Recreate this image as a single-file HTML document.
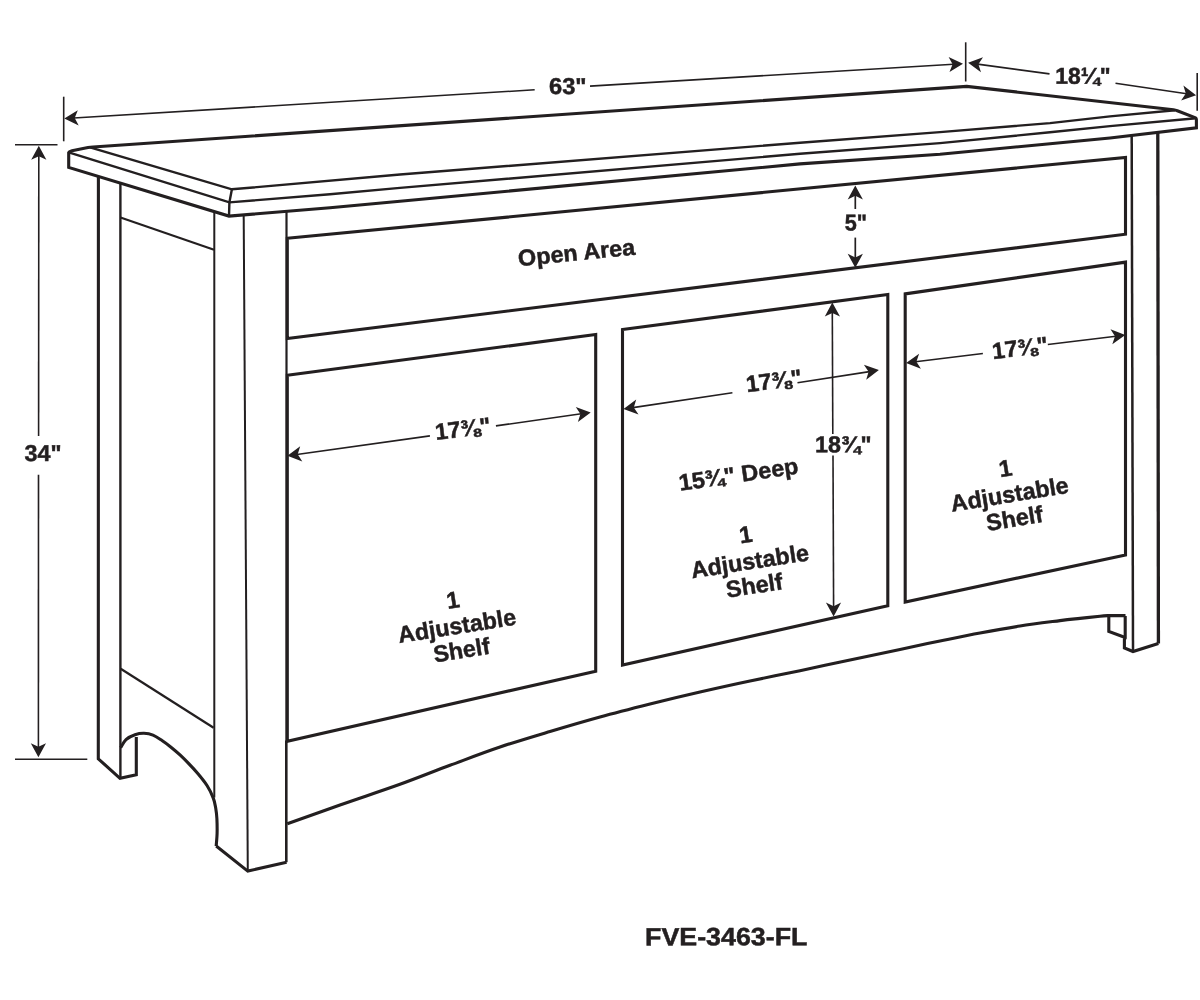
<!DOCTYPE html>
<html lang="en">
<head>
<meta charset="utf-8">
<title>FVE-3463-FL</title>
<style>
html,body{margin:0;padding:0;background:#fff;}
body{width:1200px;height:1000px;overflow:hidden;}
svg{display:block;will-change:transform;}
svg path{fill:none;stroke:#231f20;stroke-linejoin:miter;stroke-linecap:butt;}
svg path.ah{fill:#231f20;stroke:none;}
svg text{font-family:"Liberation Sans",Arial,Helvetica,sans-serif;font-weight:700;fill:#231f20;stroke:#231f20;stroke-width:0.5px;}
</style>
</head>
<body>
<svg width="1200" height="1000" viewBox="0 0 1200 1000">
<rect x="0" y="0" width="1200" height="1000" fill="#ffffff"/>
<g transform="translate(0 0.5)">
<path d="M68.7,166.9 L68.7,152 Q69,151 72,150.2 L88,147 Q90,146.7 93,146.5 L966.7,85.9 L1173.5,109.2 Q1175.5,109.5 1177.3,110.2 L1195.6,117.3 Q1196.4,117.7 1196.4,119 L1196.4,127.4 L1110,137.5 L1050,143.2 L940,153.8 L800,163.4 L400,200.7 L330,207.3 L229,215.6 Z" stroke-width="3.1"/>
<path d="M229.0,215.6 L229.4,201.9 L231.9,188.8" stroke-width="2.4" />
<path d="M90.0,146.8 L231.9,188.8 L400.0,174.0 L800.0,142.3 L940.0,131.6 L1050.0,122.6 L1110.0,115.9 L1175.0,109.7" stroke-width="2.4" />
<path d="M68.7,151.8 L229.4,201.9 L330.0,193.7 L400.0,187.4 L800.0,153.3 L940.0,142.6 L1050.0,131.8 L1110.0,125.6 L1196.0,117.7" stroke-width="2.4" />
<path d="M98.4,175.9 L98.3,758.3 L120.0,777.8 L136.3,774.2 L136.3,736.6" stroke-width="3.1" />
<path d="M120.4,182.6 L120.4,777.7" stroke-width="2.4" />
<path d="M120.5,217.0 L214.0,249.3" stroke-width="2.2" />
<path d="M120.7,668.3 L213.6,727.3" stroke-width="2.2" />
<path d="M120.6,747.2 C121.5,745.9 123.6,741.3 126.0,739.1 C128.4,736.9 132.0,735.2 135.0,734.2 C138.0,733.2 141.0,732.7 144.0,732.8 C147.0,732.9 150.0,733.4 153.0,734.6 C156.0,735.8 159.0,738.0 162.0,740.0 C165.0,742.0 168.0,744.3 171.0,746.7 C174.0,749.1 177.0,751.6 180.0,754.4 C183.0,757.2 186.0,760.2 189.0,763.4 C192.0,766.5 195.0,769.7 198.0,773.3 C201.0,776.9 204.4,781.0 207.0,785.0 C209.6,789.0 211.9,793.9 213.3,797.6 C214.8,801.4 215.1,804.0 215.7,807.5 C216.3,811.0 216.7,814.1 216.9,818.3 C217.1,822.5 217.2,828.2 217.1,832.7 C217.0,837.2 216.3,843.4 216.2,845.5" stroke-width="3.1"/>
<path d="M214.3,211.2 L214.3,797.0" stroke-width="2.0" />
<path d="M216.2,845.5 L247.8,870.6 L286.6,861.7" stroke-width="3.1" />
<path d="M243.7,215.6 L247.8,870.6" stroke-width="2.0" />
<path d="M286.5,211.5 L286.5,741.0" stroke-width="2.2" />
<path d="M286.3,740.0 L286.3,861.7" stroke-width="2.6" />
<path d="M287.3,237.8 L1125.5,157.0 L1125.5,233.7 L287.3,338.0 Z" stroke-width="3.1" />
<path d="M287.3,374.7 L595.7,334.0 L595.7,670.7 L287.3,740.7 Z" stroke-width="3.1" />
<path d="M622.5,329.0 L887.8,294.0 L887.8,605.2 L622.5,664.6 Z" stroke-width="3.1" />
<path d="M905.2,293.4 L1125.5,261.6 L1125.5,554.4 L905.2,601.6 Z" stroke-width="3.1" />
<path d="M287.3,823.3 C296.1,820.2 321.2,811.1 340.0,804.5 C358.8,797.9 381.7,790.4 400.0,783.8 C418.3,777.2 433.3,771.0 450.0,764.8 C466.7,758.6 483.3,752.1 500.0,746.5 C516.7,740.9 533.3,736.0 550.0,731.0 C566.7,726.0 583.3,721.1 600.0,716.5 C616.7,711.9 633.3,707.7 650.0,703.5 C666.7,699.3 683.3,695.3 700.0,691.5 C716.7,687.7 733.3,684.0 750.0,680.5 C766.7,677.0 783.3,673.7 800.0,670.2 C816.7,666.7 833.3,663.0 850.0,659.5 C866.7,656.0 885.0,652.2 900.0,649.0 C915.0,645.8 926.7,643.2 940.0,640.5 C953.3,637.8 966.7,635.0 980.0,632.5 C993.3,630.0 1006.7,627.6 1020.0,625.5 C1033.3,623.4 1050.0,621.4 1060.0,620.1 C1070.0,618.8 1073.3,618.6 1080.0,617.9 C1086.7,617.2 1095.2,616.2 1100.0,615.7 C1104.8,615.2 1107.5,615.2 1109.0,615.1 L1125.5,615.1" stroke-width="3.1"/>
<path d="M1108.8,615.6 L1108.8,631.0 L1125.2,637.0" stroke-width="3.1" />
<path d="M1125.2,615.6 L1125.2,637.5 L1124.4,639.0 L1124.4,647.4 L1133.0,651.0 L1158.4,643.0" stroke-width="3.1" />
<path d="M1131.7,135.5 L1133.0,651.0" stroke-width="2.5" />
<path d="M1157.8,132.3 L1158.4,643.0" stroke-width="3.3000000000000003" />
<path d="M63.7,96.2 L63.7,140.8" stroke-width="1.6" />
<path d="M965.7,41.8 L965.7,81.0" stroke-width="1.6" />
<path class="ah" d="M64.3,118.1 L77.8,109.7 L74.7,117.5 L78.7,124.9 Z"/>
<path d="M73.8,117.5 L534.7,89.3" stroke-width="1.6"/>
<path class="ah" d="M963.0,63.2 L949.5,71.6 L952.6,63.8 L948.6,56.4 Z"/>
<path d="M590.0,85.6 L953.5,63.7" stroke-width="1.6"/>
<text x="549.0" y="93.6" font-size="23" text-anchor="start" transform="rotate(-0.05 549.0 93.6)" textLength="37.6" lengthAdjust="spacingAndGlyphs">63"</text>
<path d="M1197.2,72.5 L1197.2,110.2" stroke-width="1.6" />
<path class="ah" d="M968.1,62.3 L983.0,56.7 L978.4,63.7 L981.0,71.7 Z"/>
<path d="M977.5,63.6 L1049.5,73.4" stroke-width="1.6"/>
<path class="ah" d="M1196.1,94.7 L1181.1,100.1 L1185.8,93.1 L1183.4,85.1 Z"/>
<path d="M1115.5,82.7 L1186.7,93.3" stroke-width="1.6"/>
<text x="1055.2" y="83.2" font-size="23" text-anchor="start" transform="rotate(-0.05 1055.2 83.2)" textLength="55.5" lengthAdjust="spacingAndGlyphs">18¼"</text>
<path d="M15.0,144.3 L57.5,144.3" stroke-width="1.6" />
<path d="M15.0,758.7 L87.3,758.7" stroke-width="1.6" />
<path class="ah" d="M38.8,145.3 L46.4,159.3 L38.8,155.7 L31.2,159.3 Z"/>
<path d="M38.8,154.8 L38.6,435.5" stroke-width="1.6"/>
<path class="ah" d="M38.4,756.7 L30.8,742.7 L38.4,746.3 L46.0,742.7 Z"/>
<path d="M38.5,474.3 L38.4,747.2" stroke-width="1.6"/>
<text x="24.6" y="460.6" font-size="23" text-anchor="start" transform="rotate(-0.05 24.6 460.6)" textLength="37" lengthAdjust="spacingAndGlyphs">34"</text>
<path class="ah" d="M855.3,184.9 L862.9,198.9 L855.3,195.3 L847.7,198.9 Z"/>
<path d="M855.3,194.4 L855.3,208.5" stroke-width="1.7"/>
<path class="ah" d="M855.3,267.3 L847.7,253.3 L855.3,256.9 L862.9,253.3 Z"/>
<path d="M855.3,237.1 L855.3,257.8" stroke-width="1.7"/>
<text x="844.7" y="229.9" font-size="23" text-anchor="start" transform="rotate(-0.05 844.7 229.9)" textLength="22.3" lengthAdjust="spacingAndGlyphs">5"</text>
<path class="ah" d="M832.3,302.1 L840.0,316.1 L832.3,312.5 L824.8,316.1 Z"/>
<path d="M832.3,311.6 L832.8,433.5" stroke-width="1.6"/>
<path class="ah" d="M833.6,616.1 L825.9,602.1 L833.6,605.7 L841.1,602.1 Z"/>
<path d="M833.0,455.0 L833.6,606.6" stroke-width="1.6"/>
<text x="815.0" y="451.8" font-size="23" text-anchor="start" transform="rotate(-0.05 815.0 451.8)" textLength="56.5" lengthAdjust="spacingAndGlyphs">18¾"</text>
<path class="ah" d="M287.4,455.3 L300.2,445.8 L297.7,453.8 L302.3,460.9 Z"/>
<path d="M296.8,454.0 L429.9,435.4" stroke-width="1.6"/>
<path class="ah" d="M590.7,411.9 L577.9,421.4 L580.4,413.4 L575.8,406.4 Z"/>
<path d="M495.9,425.4 L581.3,413.3" stroke-width="1.6"/>
<text x="435.9" y="439.5" font-size="23" text-anchor="start" transform="rotate(-7 435.9 439.5)" textLength="56" lengthAdjust="spacingAndGlyphs">17⅜"</text>
<path class="ah" d="M623.5,408.5 L636.2,398.9 L633.8,406.9 L638.5,413.9 Z"/>
<path d="M632.9,407.1 L732.4,392.3" stroke-width="1.6"/>
<path class="ah" d="M878.9,369.6 L866.2,379.3 L868.6,371.2 L863.9,364.3 Z"/>
<path d="M797.5,382.2 L869.5,371.1" stroke-width="1.6"/>
<text x="747.0" y="391.7" font-size="23" text-anchor="start" transform="rotate(-7.3 747.0 391.7)" textLength="56" lengthAdjust="spacingAndGlyphs">17⅜"</text>
<path class="ah" d="M906.1,362.5 L919.1,353.2 L916.4,361.2 L920.9,368.3 Z"/>
<path d="M915.5,361.3 L982.9,353.0" stroke-width="1.6"/>
<path class="ah" d="M1125.3,334.5 L1112.3,343.8 L1115.0,335.8 L1110.5,328.7 Z"/>
<path d="M1047.8,344.0 L1115.9,335.7" stroke-width="1.6"/>
<text x="993.0" y="358.7" font-size="23" text-anchor="start" transform="rotate(-7 993.0 358.7)" textLength="56" lengthAdjust="spacingAndGlyphs">17⅜"</text>
<text x="518.8" y="265.8" font-size="23" text-anchor="start" transform="rotate(-5.7 518.8 265.8)" textLength="117.5" lengthAdjust="spacingAndGlyphs">Open Area</text>
<text x="680.0" y="490.3" font-size="23" text-anchor="start" transform="rotate(-8.3 680.0 490.3)" textLength="120.5" lengthAdjust="spacingAndGlyphs">15¾" Deep</text>
<text x="454.1" y="607.6" font-size="23.3" text-anchor="middle" transform="rotate(-9 454.1 607.6)">1</text>
<text x="458.2" y="633.3" font-size="23.3" text-anchor="middle" transform="rotate(-9 458.2 633.3)">Adjustable</text>
<text x="462.8" y="657.5" font-size="23.3" text-anchor="middle" transform="rotate(-9 462.8 657.5)">Shelf</text>
<text x="746.9" y="542.1" font-size="23.3" text-anchor="middle" transform="rotate(-8.7 746.9 542.1)">1</text>
<text x="751.0" y="568.7" font-size="23.3" text-anchor="middle" transform="rotate(-8.7 751.0 568.7)">Adjustable</text>
<text x="755.5" y="592.9" font-size="23.3" text-anchor="middle" transform="rotate(-8.7 755.5 592.9)">Shelf</text>
<text x="1006.6" y="475.6" font-size="23.3" text-anchor="middle" transform="rotate(-9.3 1006.6 475.6)">1</text>
<text x="1010.9" y="501.7" font-size="23.3" text-anchor="middle" transform="rotate(-9.3 1010.9 501.7)">Adjustable</text>
<text x="1015.7" y="525.8" font-size="23.3" text-anchor="middle" transform="rotate(-9.3 1015.7 525.8)">Shelf</text>
<text x="645.0" y="944.9" font-size="25" text-anchor="start" transform="rotate(-0.05 645.0 944.9)" textLength="162.5" lengthAdjust="spacingAndGlyphs">FVE-3463-FL</text>
</g>
</svg>
</body>
</html>
